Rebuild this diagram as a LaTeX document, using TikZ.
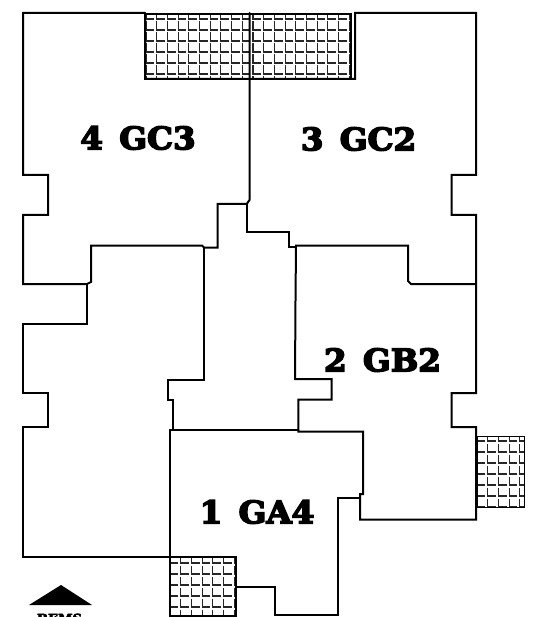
\documentclass[tikz,border=0pt]{standalone}
\usepackage{fontspec}
\newfontfamily\labfont[FakeBold=5,FakeStretch=1.05]{DejaVu Serif Bold}
\newcommand{\hatchgrid}[4]{%
  \begin{scope}
    \clip (#1,#2) rectangle (#3,#4);
    \pgfmathsetmacro{\nx}{int((#3-#1)/10.7)+1}
    \pgfmathsetmacro{\ny}{int((#4-#2)/11)+1}
    \foreach \i in {0,...,\nx}{
      \foreach \j in {0,...,\ny}{
        \draw[hatchline] ({#1+\i*10.7},{#2+(\j-1)*11+7.5}) -- ({#1+\i*10.7},{#2+\j*11+5}) -- ({#1+(\i+1)*10.7-2.6},{#2+\j*11+5});
      }
    }
  \end{scope}
}
\tikzset{
  wall/.style={line width=2pt,line join=miter,line cap=round},
  thin wall/.style={line width=1.4pt},
  hatchline/.style={line width=1.05pt,black!85},
  unit label/.style={font=\labfont\fontsize{31}{32}\selectfont,inner sep=0pt,anchor=center}
}
\begin{document}
\begin{tikzpicture}[x=1pt,y=-1pt]
\useasboundingbox (0,0) rectangle (534,617);
\clip (0,0) rectangle (534,617);
\fill[white] (0,0) rectangle (534,617);
% hatched areas
\hatchgrid{146}{14}{351}{79}
\hatchgrid{170}{558}{236}{617}
\hatchgrid{477}{436}{524}{507}
\draw[thin wall] (146,14) -- (351,14) -- (351,79);
\draw[line width=0.9pt] (477,436) rectangle (524,507);
\draw[thin wall] (170,557) rectangle (236,616);
% unit 4 and 3 outer
\draw[wall] (145,13) -- (23,13) -- (23,175) -- (48,175) -- (48,215) -- (23,215) -- (23,284) -- (87,284) -- (91,282) -- (91,245.5) -- (202,245.5) -- (204,247.5) -- (217.5,247.5) -- (217.5,204) -- (246.7,204) -- (249.5,200) -- (249.5,13);
\draw[wall] (145,13) -- (145,79) -- (355,79) -- (355,13) -- (476,13) -- (476,175) -- (451.5,175) -- (451.5,215) -- (476,215) -- (476,284) -- (411,284) -- (408,281) -- (408,245.5) -- (296,245.5) -- (295.5,300) -- (295,379) -- (331.7,379) -- (331.7,399.5) -- (298.3,399.5) -- (298.3,431.5) -- (363,431.5) -- (363,494) -- (360,494) -- (360,519.5) -- (476,519.5) -- (476,427) -- (451.5,427) -- (451.5,393) -- (476,393) -- (476,284);
% core
\draw[wall] (246.7,204) -- (246.7,231.7) -- (288.7,231.7) -- (288.7,246.7) -- (296,246.7);
\draw[wall] (204,247.5) -- (204,380) -- (168,380) -- (168,400) -- (173,400) -- (173,430) -- (170,430);
\draw[wall] (170,430) -- (298.3,430);
% unit 1 and left unit
\draw[wall] (170,430) -- (170,557);
\draw[wall] (87,284) -- (87,324) -- (23,324) -- (23,393) -- (48,393) -- (48,427) -- (23,427) -- (23,557) -- (236,557);
\draw[wall] (360,497.7) -- (337.7,497.7) -- (337.7,615) -- (275,615) -- (275,587) -- (236,587);
% north marker
\fill (61,585) -- (92,605) -- (29,605) -- cycle;
% labels
\node[unit label] (l4) at (138,138) {4\hspace{5pt} GC3};
\node[unit label] (l3) at (358.5,139) {3\hspace{5pt} GC2};
\node[unit label] (l2) at (382.5,360) {2\hspace{5pt} GB2};
\node[unit label] (l1) at (257,512) {1\hspace{5pt} GA4};
\node[font=\labfont\fontsize{12.5}{13}\selectfont,inner sep=0pt,anchor=north] (mk) at (59.5,613.5) {BEMS};
\end{tikzpicture}
\end{document}
